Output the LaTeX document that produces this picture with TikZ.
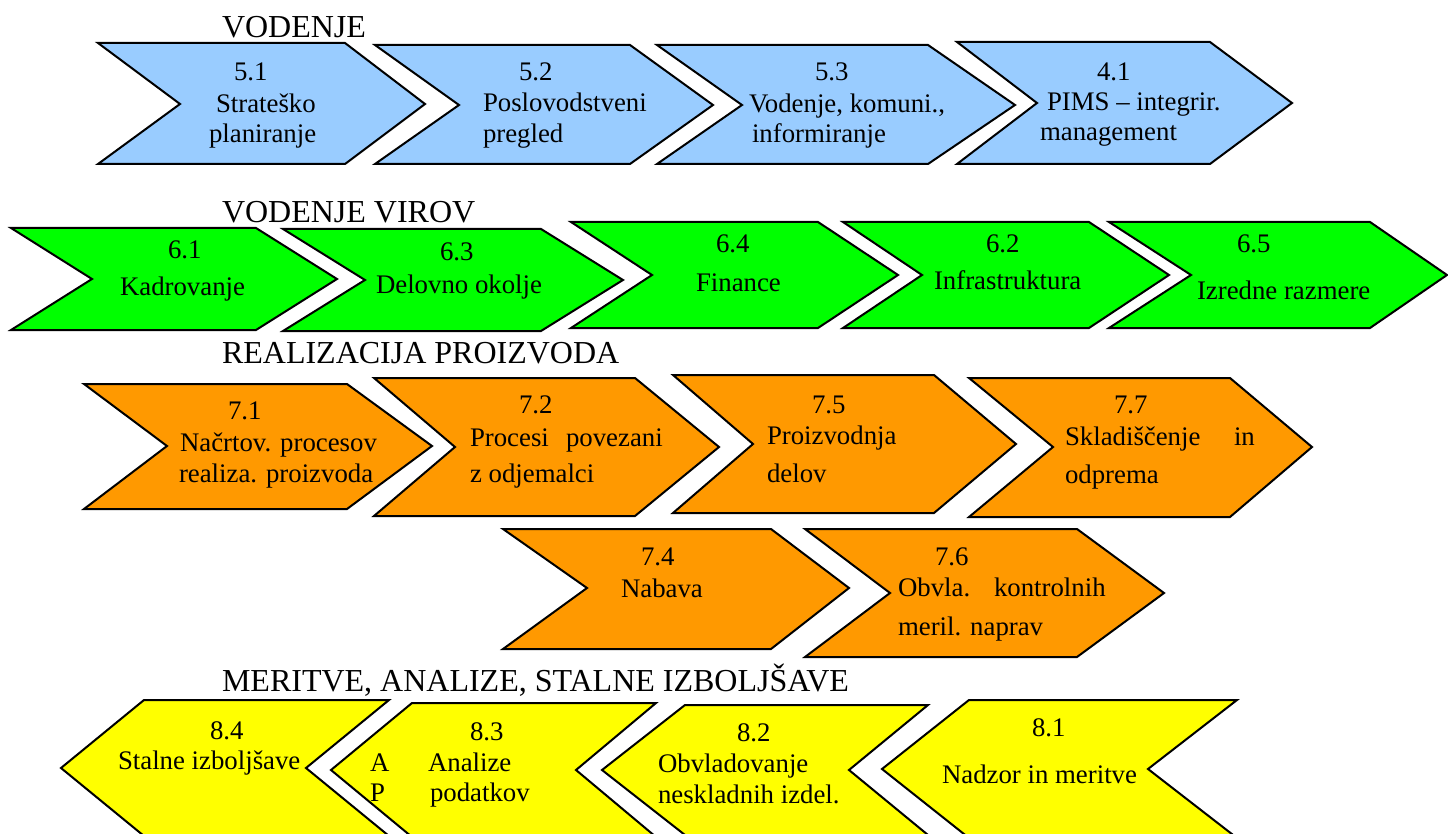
\documentclass[tikz,border=0pt]{standalone}
\usepackage{fontspec}
\setmainfont{Liberation Serif}
\newcommand{\chevfont}{\fontsize{26.8}{31}\selectfont}
\newcommand{\titfont}{\fontsize{32}{38}\selectfont}
\definecolor{cblue}{HTML}{99CCFF}
\definecolor{cgreen}{HTML}{00FF00}
\definecolor{corange}{HTML}{FF9900}
\definecolor{cyellow}{HTML}{FFFF00}
\tikzset{
  chev/.style={draw=black, line width=2pt, line join=miter},
  bluechev/.style={chev, fill=cblue},
  greenchev/.style={chev, fill=cgreen},
  orangechev/.style={chev, fill=corange},
  yellowchev/.style={chev, fill=cyellow},
  lbl/.style={anchor=base west, inner sep=0pt, outer sep=0pt, font=\chevfont},
  ttl/.style={anchor=base west, inner sep=0pt, outer sep=0pt, font=\titfont},
}
\begin{document}
\begin{tikzpicture}[x=1pt,y=-1pt]
\useasboundingbox (0,0) rectangle (1448,834);
\fill[white] (0,0) rectangle (1448,834);

% ---------- VODENJE ----------
\node[ttl] (t1) at (222,38) {VODENJE};
\draw[bluechev] (98,43) -- (345,43) -- (425,104) -- (345,164) -- (98,164) -- (180,104) -- cycle;
\draw[bluechev] (375,45) -- (630,45) -- (713,105) -- (630,164) -- (375,164) -- (459,105) -- cycle;
\draw[bluechev] (657,45) -- (928,45) -- (1015,105) -- (928,164) -- (657,164) -- (742,105) -- cycle;
\draw[bluechev] (957,42) -- (1210,42) -- (1292,103) -- (1210,164) -- (957,164) -- (1037,103) -- cycle;
\node[lbl] (b1a) at (234,81) {5.1};
\node[lbl] (b1b) at (216,113) {Strateško};
\node[lbl] (b1c) at (209,143) {planiranje};
\node[lbl] (b2a) at (519,81) {5.2};
\node[lbl] (b2b) at (483,112) {Poslovodstveni};
\node[lbl] (b2c) at (483,143) {pregled};
\node[lbl] (b3a) at (815,81) {5.3};
\node[lbl] (b3b) at (749,113) {Vodenje, komuni.,};
\node[lbl] (b3c) at (752,143) {informiranje};
\node[lbl] (b4a) at (1097,81) {4.1};
\node[lbl] (b4b) at (1047,111) {PIMS – integrir.};
\node[lbl] (b4c) at (1040,141) {management};

% ---------- VODENJE VIROV ----------
\node[ttl] (t2) at (222,223) {VODENJE VIROV};
\draw[greenchev] (11,228) -- (256,228) -- (337,279) -- (256,330) -- (11,330) -- (92,279) -- cycle;
\draw[greenchev] (283,229) -- (541,229) -- (623,280) -- (541,331) -- (283,331) -- (365,280) -- cycle;
\draw[greenchev] (571,222) -- (818,222) -- (898,275) -- (818,328) -- (571,328) -- (652,275) -- cycle;
\draw[greenchev] (843,222) -- (1089,222) -- (1169,275) -- (1089,328) -- (843,328) -- (922,275) -- cycle;
\draw[greenchev] (1109,222) -- (1370,222) -- (1447,275) -- (1370,328) -- (1109,328) -- (1191,275) -- cycle;
\node[lbl] (g1a) at (168,259) {6.1};
\node[lbl] (g1b) at (120,296) {Kadrovanje};
\node[lbl] (g2a) at (440,261) {6.3};
\node[lbl] (g2b) at (376,294) {Delovno okolje};
\node[lbl] (g3a) at (716,253) {6.4};
\node[lbl] (g3b) at (696,291) {Finance};
\node[lbl] (g4a) at (986,253) {6.2};
\node[lbl] (g4b) at (934,290) {Infrastruktura};
\node[lbl] (g5a) at (1237,253) {6.5};
\node[lbl] (g5b) at (1197,299) {Izredne razmere};

% ---------- REALIZACIJA PROIZVODA ----------
\node[ttl] (t3) at (222,363) {REALIZACIJA PROIZVODA};
\draw[orangechev] (84,384) -- (347,384) -- (432,446) -- (347,509) -- (84,509) -- (167,446) -- cycle;
\draw[orangechev] (374,378) -- (635,378) -- (719,447) -- (635,516) -- (374,516) -- (455,447) -- cycle;
\draw[orangechev] (673,375) -- (934,375) -- (1016,444) -- (934,513) -- (673,513) -- (753,444) -- cycle;
\draw[orangechev] (969,378) -- (1230,378) -- (1312,447) -- (1230,517) -- (969,517) -- (1053,447) -- cycle;
\draw[orangechev] (503,529) -- (771,529) -- (849,588) -- (771,649) -- (503,649) -- (587,588) -- cycle;
\draw[orangechev] (805,529) -- (1077,529) -- (1164,593) -- (1077,657) -- (805,657) -- (890,593) -- cycle;
\node[lbl] (o1a) at (228,419) {7.1};
\node[lbl] (o1b) at (180,451) {Načrtov. procesov};
\node[lbl] (o1c) at (179,482) {realiza. proizvoda};
\node[lbl] (o2a) at (519,413) {7.2};
\node[lbl] (o2b) at (470,446) {Procesi};
\node[lbl] (o2c) at (566,446) {povezani};
\node[lbl] (o2d) at (470,482) {z odjemalci};
\node[lbl] (o3a) at (812,413) {7.5};
\node[lbl] (o3b) at (767,444) {Proizvodnja};
\node[lbl] (o3c) at (767,482) {delov};
\node[lbl] (o4a) at (1114,413) {7.7};
\node[lbl] (o4b) at (1065,445) {Skladiščenje};
\node[lbl] (o4c) at (1234,445) {in};
\node[lbl] (o4d) at (1065,483) {odprema};
\node[lbl] (o5a) at (641,565) {7.4};
\node[lbl] (o5b) at (621,597) {Nabava};
\node[lbl] (o6a) at (935,565) {7.6};
\node[lbl] (o6b) at (898,596) {Obvla.};
\node[lbl] (o6c) at (994,596) {kontrolnih};
\node[lbl] (o6d) at (898,635) {meril. naprav};

% ---------- MERITVE ----------
\node[ttl] (t4) at (222,691) {MERITVE, ANALIZE, STALNE IZBOLJŠAVE};
\draw[yellowchev] (61,768) -- (144,700) -- (389,700) -- (306,768) -- (389,836) -- (144,836) -- cycle;
\draw[yellowchev] (331,770) -- (412,703) -- (656,703) -- (576,770) -- (656,837) -- (412,837) -- cycle;
\draw[yellowchev] (602,770) -- (685,705) -- (928,705) -- (849,770) -- (928,835) -- (685,835) -- cycle;
\draw[yellowchev] (882,769) -- (969,700) -- (1237,700) -- (1148,769) -- (1237,838) -- (969,838) -- cycle;
\node[lbl] (y1a) at (210,739) {8.4};
\node[lbl] (y1b) at (118,769) {Stalne izboljšave};
\node[lbl] (y2a) at (470,740) {8.3};
\node[lbl] (y2b) at (370,771) {A};
\node[lbl] (y2c) at (370,801) {P};
\node[lbl] (y2d) at (428,771) {Analize};
\node[lbl] (y2e) at (430,801) {podatkov};
\node[lbl] (y3a) at (737,741) {8.2};
\node[lbl] (y3b) at (658,772) {Obvladovanje};
\node[lbl] (y3c) at (658,803) {neskladnih izdel.};
\node[lbl] (y4a) at (1032,736) {8.1};
\node[lbl] (y4b) at (942,783) {Nadzor in meritve};
\end{tikzpicture}
\end{document}
